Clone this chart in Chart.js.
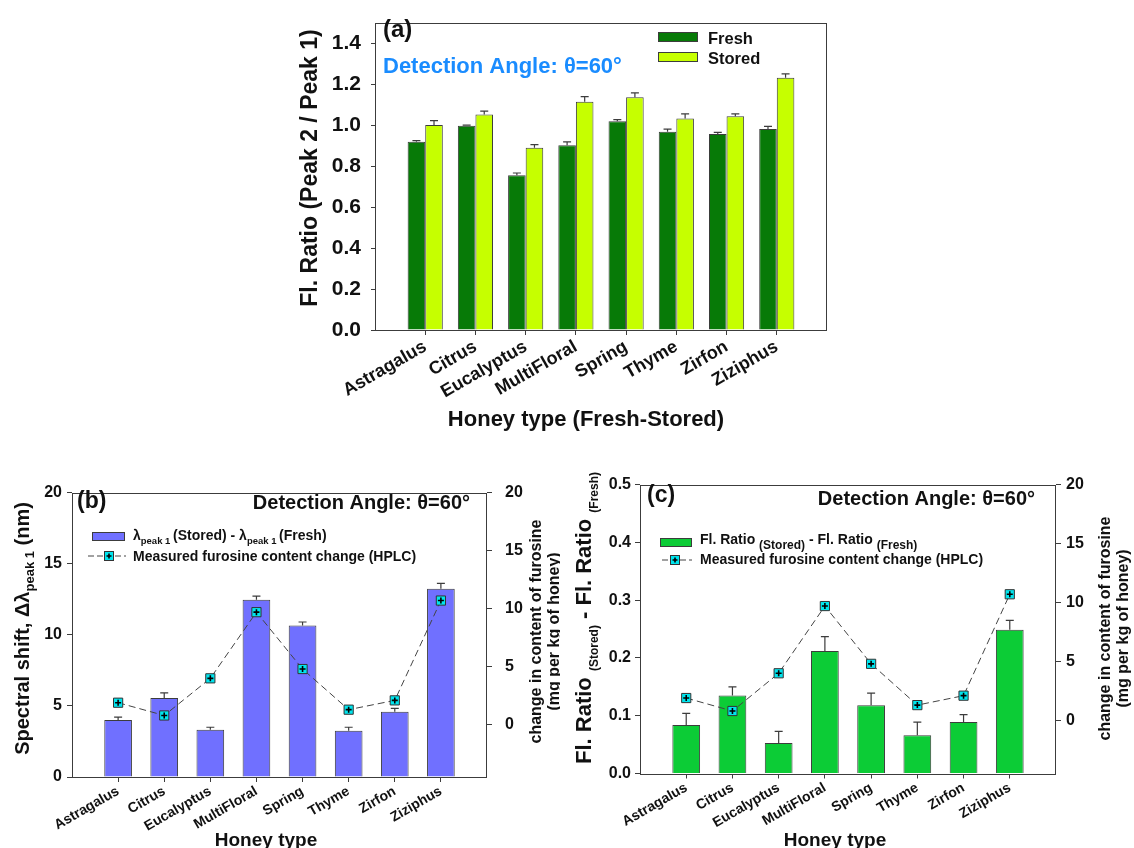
<!DOCTYPE html>
<html lang="en">
<head>
<meta charset="UTF-8">
<title>Honey fluorescence ratio and furosine</title>
<script src="https://cdn.jsdelivr.net/npm/chart.js"></script>
<style>
  html, body { margin: 0; padding: 0; background: #fff; overflow: hidden; }
  body { width: 1134px; height: 848px; position: relative; }
  canvas { position: absolute; }
</style>
</head>
<body>
<canvas id="chartA" width="590" height="445" style="left:270px;top:0px"></canvas>
<canvas id="chartB" width="560" height="390" style="left:0px;top:470px"></canvas>
<canvas id="chartC" width="574" height="390" style="left:560px;top:470px"></canvas>
<script>
const honeyTypes = ['Astragalus', 'Citrus', 'Eucalyptus', 'MultiFloral', 'Spring', 'Thyme', 'Zirfon', 'Ziziphus'];

// (a) Fl. ratio peak2/peak1, fresh vs stored
const ratioFresh     = [0.918, 0.997, 0.755, 0.902, 1.019, 0.967, 0.956, 0.981];
const ratioFreshErr  = [0.006, 0.003, 0.011, 0.016, 0.008, 0.013, 0.008, 0.013];
const ratioStored    = [1.000, 1.051, 0.889, 1.114, 1.136, 1.032, 1.043, 1.231];
const ratioStoredErr = [0.022, 0.017, 0.016, 0.025, 0.021, 0.023, 0.012, 0.019];
const ratioTicks = [0, 0.2, 0.4, 0.6, 0.8, 1.0, 1.2, 1.4];

// (b) spectral shift of peak 1 (nm)
const peakShift    = [4.01, 5.55, 3.32, 12.47, 10.65, 3.25, 4.59, 13.23];
const peakShiftErr = [0.20, 0.37, 0.18, 0.25, 0.25, 0.25, 0.23, 0.39];
const shiftTicks = [0, 5, 10, 15, 20];

// (c) Fl. ratio stored - fresh
const ratioDiff    = [0.084, 0.135, 0.053, 0.212, 0.118, 0.066, 0.089, 0.249];
const ratioDiffErr = [0.020, 0.015, 0.020, 0.025, 0.021, 0.023, 0.013, 0.016];
const diffTicks = [0, 0.1, 0.2, 0.3, 0.4, 0.5];

// furosine change by HPLC (mg per kg of honey), right axis of (b) and (c)
const furosine = [1.9, 0.8, 4.0, 9.7, 4.8, 1.3, 2.1, 10.7];
const furosineTicks = [0, 5, 10, 15, 20];

const FONT = "'Liberation Sans', Arial, sans-serif";
const INK = '#111';
const EDGE = '#3c3c3c';
Chart.defaults.font.family = FONT;
Chart.defaults.color = INK;

// one empty slot on each side, so the first and last bar sit a full step from the frame
const labels = ['', ...honeyTypes, ''];
const pad = arr => [null, ...arr, null];
const bold = px => 'bold ' + px + 'px ' + FONT;
const fixedTicks = list => scale => { scale.ticks = list.map(v => ({ value: v })); };

function drawParts(ctx, parts, x, y, align) {
  // parts: [text, size, baseline shift]
  ctx.textAlign = 'left';
  ctx.textBaseline = 'alphabetic';
  let w = 0;
  parts.forEach(p => { ctx.font = bold(p[1]); w += ctx.measureText(p[0]).width; });
  let cx = align === 'center' ? x - w / 2 : (align === 'right' ? x - w : x);
  parts.forEach(p => {
    ctx.font = bold(p[1]);
    ctx.fillText(p[0], cx, y + (p[2] || 0));
    cx += ctx.measureText(p[0]).width;
  });
}

function drawVertical(ctx, parts, x, y) {
  ctx.save();
  ctx.translate(x, y);
  ctx.rotate(-Math.PI / 2);
  drawParts(ctx, parts, 0, 0, 'center');
  ctx.restore();
}

function furosineSample(ctx, x1, x2, y, mx) {
  ctx.save();
  ctx.strokeStyle = '#444';
  ctx.lineWidth = 1;
  ctx.setLineDash([6, 3]);
  ctx.beginPath(); ctx.moveTo(x1, y); ctx.lineTo(x2, y); ctx.stroke();
  ctx.setLineDash([]);
  ctx.fillStyle = '#00e5ee';
  ctx.fillRect(mx - 4.5, y - 4.5, 9, 9);
  ctx.strokeStyle = '#333';
  ctx.strokeRect(mx - 4.5, y - 4.5, 9, 9);
  ctx.strokeStyle = '#000';
  ctx.lineWidth = 1.6;
  ctx.beginPath();
  ctx.moveTo(mx - 2.5, y); ctx.lineTo(mx + 2.5, y);
  ctx.moveTo(mx, y - 2.5); ctx.lineTo(mx, y + 2.5);
  ctx.stroke();
  ctx.restore();
}

function legendBox(ctx, x, y, w, h, color) {
  ctx.fillStyle = color;
  ctx.fillRect(x, y, w, h);
  ctx.strokeStyle = EDGE;
  ctx.lineWidth = 1;
  ctx.strokeRect(x + 0.5, y + 0.5, w - 1, h - 1);
}

const frame = {
  id: 'frame',
  beforeDatasetsDraw(chart) {
    const a = chart.chartArea, ctx = chart.ctx;
    ctx.save();
    ctx.strokeStyle = EDGE;
    ctx.lineWidth = 1;
    ctx.strokeRect(Math.round(a.left) + 0.5, Math.round(a.top) + 0.5,
      Math.round(a.right - a.left) - 1, Math.round(a.bottom - a.top));
    ctx.restore();
  }
};

// upward error bars with a cap, drawn right after their own bars
const errorBars = {
  id: 'errorBars',
  afterDatasetDraw(chart, args) {
    const ds = chart.data.datasets[args.index];
    if (!ds.errors) return;
    const meta = args.meta, scale = chart.scales[meta.yAxisID], ctx = chart.ctx;
    ctx.save();
    ctx.strokeStyle = EDGE;
    ctx.lineWidth = 1.2;
    meta.data.forEach((bar, i) => {
      const v = ds.data[i], e = ds.errors[i];
      if (v == null || e == null) return;
      const yTop = scale.getPixelForValue(v + e);
      ctx.beginPath();
      ctx.moveTo(bar.x, bar.y);
      ctx.lineTo(bar.x, yTop);
      ctx.moveTo(bar.x - 4, yTop);
      ctx.lineTo(bar.x + 4, yTop);
      ctx.stroke();
    });
    ctx.restore();
  }
};

const xTickColor = ctx => (ctx.index === 0 || ctx.index === labels.length - 1) ? 'rgba(0,0,0,0)' : EDGE;

function xScale(fontPx, height) {
  return {
    offset: false,
    grid: { offset: false, drawOnChartArea: false, tickLength: 5, tickColor: xTickColor },
    border: { display: false },
    ticks: { autoSkip: false, minRotation: 30, maxRotation: 30, padding: 1, font: { size: fontPx, weight: 'bold' } },
    afterFit: s => { s.height = height; }
  };
}

function yScale(pos, min, max, tickList, fmt, fontPx, padding, width) {
  return {
    position: pos, min: min, max: max,
    afterBuildTicks: fixedTicks(tickList),
    grid: { drawOnChartArea: false, tickLength: 5, tickColor: EDGE },
    border: { display: false },
    ticks: { padding: padding, font: { size: fontPx, weight: 'bold' }, callback: fmt },
    afterFit: s => { s.width = width; }
  };
}

function furosineSets() {
  return [
    { type: 'line', data: pad(furosine), yAxisID: 'y1', order: 0, showLine: false,
      pointStyle: 'cross', pointRadius: 3, pointBorderWidth: 1.6, borderColor: '#000' },
    { type: 'line', label: 'Measured furosine content change (HPLC)', data: pad(furosine), yAxisID: 'y1', order: 1,
      borderColor: '#444', borderWidth: 1, borderDash: [7, 4], fill: false, tension: 0,
      pointStyle: 'rect', pointRadius: 6.5, pointBackgroundColor: '#00e5ee', pointBorderColor: '#333', pointBorderWidth: 1 }
  ];
}

const common = {
  responsive: false,
  animation: false,
  events: [],
  plugins: { legend: { display: false }, tooltip: { enabled: false } }
};

// ---------- (a) ----------
new Chart(document.getElementById('chartA'), {
  type: 'bar',
  data: {
    labels: labels,
    datasets: [
      { label: 'Fresh', data: pad(ratioFresh), errors: pad(ratioFreshErr), backgroundColor: '#077a07', borderColor: EDGE, borderWidth: 1 },
      { label: 'Stored', data: pad(ratioStored), errors: pad(ratioStoredErr), backgroundColor: '#c6ff00', borderColor: EDGE, borderWidth: 1 }
    ]
  },
  options: Object.assign({}, common, {
    layout: { padding: { top: 14, right: 33, left: 0, bottom: 0 } },
    datasets: { bar: { categoryPercentage: 0.7, barPercentage: 1 } },
    scales: {
      x: xScale(18, 115),
      y: Object.assign(yScale('left', 0, 1.5, ratioTicks, v => v.toFixed(1), 21, 10, 105),
        { grid: { drawOnChartArea: false, tickLength: 4, tickColor: EDGE } })
    }
  }),
  plugins: [frame, errorBars, {
    id: 'panelA',
    afterDraw(chart) {
      const ctx = chart.ctx;
      ctx.save();
      ctx.fillStyle = INK;
      drawParts(ctx, [['(a)', 24]], 113, 37);
      ctx.fillStyle = '#1a8cff';
      drawParts(ctx, [['Detection Angle: \u03b8=60\u00b0', 22]], 113, 73);
      legendBox(ctx, 388, 32, 40, 10, '#077a07');
      legendBox(ctx, 388, 52, 40, 10, '#c6ff00');
      ctx.fillStyle = INK;
      drawParts(ctx, [['Fresh', 16.5]], 438, 43.5);
      drawParts(ctx, [['Stored', 16.5]], 438, 63.5);
      drawVertical(ctx, [['Fl. Ratio (Peak 2 / Peak 1)', 23]], 47, 168);
      drawParts(ctx, [['Honey type (Fresh-Stored)', 22]], 316, 426, 'center');
      ctx.restore();
    }
  }]
});

// ---------- (b) ----------
new Chart(document.getElementById('chartB'), {
  type: 'bar',
  data: {
    labels: labels,
    datasets: [
      ...furosineSets(),
      { label: 'shift', data: pad(peakShift), errors: pad(peakShiftErr), yAxisID: 'y', order: 2,
        backgroundColor: '#7070ff', borderColor: EDGE, borderWidth: 1 }
    ]
  },
  options: Object.assign({}, common, {
    layout: { padding: { top: 17, right: 0, left: 0, bottom: 0 } },
    datasets: { bar: { categoryPercentage: 0.6, barPercentage: 1 } },
    scales: {
      x: xScale(14, 83),
      y: yScale('left', 0, 20, shiftTicks, v => String(v), 16, 5, 72),
      y1: yScale('right', -4.5, 20, furosineTicks, v => String(v), 16, 13, 73)
    }
  }),
  plugins: [frame, errorBars, {
    id: 'panelB',
    afterDraw(chart) {
      const ctx = chart.ctx;
      ctx.save();
      ctx.fillStyle = INK;
      drawParts(ctx, [['(b)', 23]], 77, 38);
      drawParts(ctx, [['Detection Angle: \u03b8=60\u00b0', 20]], 470, 39, 'right');
      legendBox(ctx, 92, 62, 33, 9, '#7070ff');
      ctx.fillStyle = INK;
      drawParts(ctx, [['\u03bb', 14], ['peak 1 ', 9.5, 4], ['(Stored) - \u03bb', 14], ['peak 1 ', 9.5, 4], ['(Fresh)', 14]], 133, 70);
      furosineSample(ctx, 88, 126, 86, 109);
      drawParts(ctx, [['Measured furosine content change (HPLC)', 14]], 133, 90.5);
      drawVertical(ctx, [['Spectral shift, \u0394\u03bb', 20], ['peak 1', 13, 5], [' (nm)', 20]], 29, 158.5);
      drawVertical(ctx, [['change in content of furosine', 16]], 541, 161.5);
      drawVertical(ctx, [['(mg per kg of honey)', 16]], 559, 161.5);
      drawParts(ctx, [['Honey type', 19]], 266, 376, 'center');
      ctx.restore();
    }
  }]
});

// ---------- (c) ----------
new Chart(document.getElementById('chartC'), {
  type: 'bar',
  data: {
    labels: labels,
    datasets: [
      ...furosineSets(),
      { label: 'diff', data: pad(ratioDiff), errors: pad(ratioDiffErr), yAxisID: 'y', order: 2,
        backgroundColor: '#0ccc36', borderColor: EDGE, borderWidth: 1 }
    ]
  },
  options: Object.assign({}, common, {
    layout: { padding: { top: 13.5, right: 0, left: 0, bottom: 0 } },
    datasets: { bar: { categoryPercentage: 0.6, barPercentage: 1 } },
    scales: {
      x: xScale(14, 86.5),
      y: yScale('left', 0, 0.5, diffTicks, v => v.toFixed(1), 16, 4, 80),
      y1: yScale('right', -4.5, 20, furosineTicks, v => String(v), 16, 5, 78)
    }
  }),
  plugins: [frame, errorBars, {
    id: 'panelC',
    afterDraw(chart) {
      const ctx = chart.ctx;
      ctx.save();
      ctx.fillStyle = INK;
      drawParts(ctx, [['(c)', 23]], 87, 32);
      drawParts(ctx, [['Detection Angle: \u03b8=60\u00b0', 20]], 475, 35, 'right');
      legendBox(ctx, 100, 68, 32, 9, '#0ccc36');
      ctx.fillStyle = INK;
      drawParts(ctx, [['Fl. Ratio ', 14], ['(Stored)', 12, 5], [' - Fl. Ratio ', 14], ['(Fresh)', 12, 5]], 140, 73.5);
      furosineSample(ctx, 102, 132, 90, 115);
      drawParts(ctx, [['Measured furosine content change (HPLC)', 14]], 140, 94);
      drawVertical(ctx, [['Fl. Ratio ', 22], ['(Stored)', 12, 7], [' - Fl. Ratio ', 22], ['(Fresh)', 12, 7]], 31, 148);
      drawVertical(ctx, [['change in content of furosine', 16]], 550, 158.5);
      drawVertical(ctx, [['(mg per kg of honey)', 16]], 568, 158.5);
      drawParts(ctx, [['Honey type', 19]], 275, 376, 'center');
      ctx.restore();
    }
  }]
});
</script>
</body>
</html>
